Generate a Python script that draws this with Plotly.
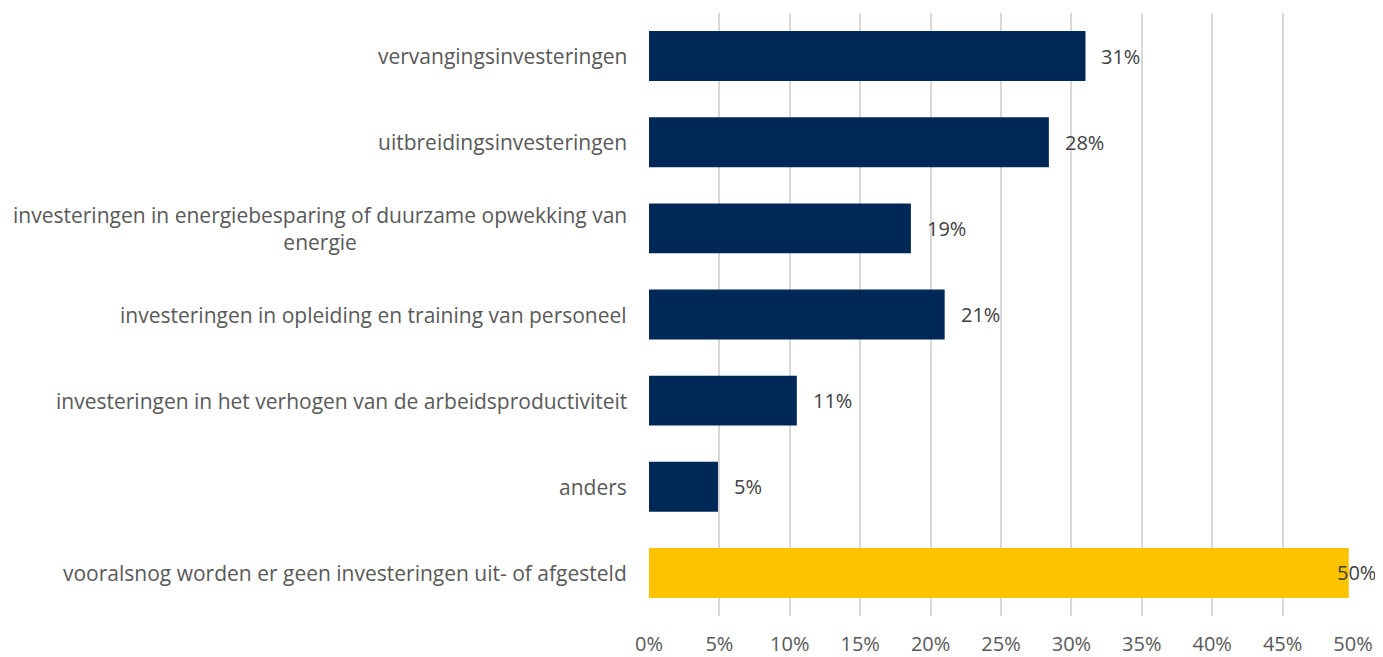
import plotly.graph_objects as go

# categories top to bottom, as in the chart
categories = [
    "vervangingsinvesteringen",
    "uitbreidingsinvesteringen",
    "investeringen in energiebesparing of duurzame opwekking van<br>energie",
    "investeringen in opleiding en training van personeel",
    "investeringen in het verhogen van de arbeidsproductiviteit",
    "anders",
    "vooralsnog worden er geen investeringen uit- of afgesteld",
]
values = [31.0, 28.4, 18.6, 21.0, 10.5, 4.9, 49.7]
value_labels = ["31%", "28%", "19%", "21%", "11%", "5%", "50%"]
bar_colors = ["#002856"] * 6 + ["#FCC400"]

tick_vals = list(range(0, 55, 5))
tick_text = [f"{v}%" for v in tick_vals]

FONT = "'Open Sans', sans-serif"

fig = go.Figure(go.Bar(
    x=values,
    y=categories,
    orientation="h",
    marker=dict(color=bar_colors, line=dict(width=0)),
    hoverinfo="skip",
))

# category labels (centred multi-line, right edge next to the axis)
for cat in categories:
    fig.add_annotation(
        x=0, xref="paper", y=cat, yref="y",
        text=cat, showarrow=False,
        xanchor="right", align="center", xshift=-20,
        font=dict(family=FONT, size=21, color="#595959"),
    )

# value labels
for cat, val, lab in zip(categories, values, value_labels):
    last = val > 45
    fig.add_annotation(
        x=val, y=cat, text=lab, showarrow=False,
        xanchor="left", xshift=-14 if last else 14,
        font=dict(family=FONT, size=20, color="#404040"),
    )

# page body has an 8px margin, so the figure is sized a little smaller
fig.update_layout(
    width=1375, height=649,
    margin=dict(l=641, r=30, t=5, b=41),
    paper_bgcolor="white", plot_bgcolor="white",
    bargap=0.42,
    showlegend=False,
    font=dict(family=FONT, size=21, color="#595959"),
)
fig.update_xaxes(
    range=[0, 50],
    tickvals=tick_vals, ticktext=tick_text,
    showgrid=True, gridcolor="#D9D9D9", gridwidth=2,
    zeroline=False, showline=False,
    ticks="", ticklabelstandoff=14,
    tickfont=dict(family=FONT, size=20, color="#595959"),
    automargin=False, fixedrange=True,
)
fig.update_yaxes(
    categoryorder="array", categoryarray=categories[::-1],
    showticklabels=False, showgrid=False, zeroline=False,
    showline=False, ticks="", automargin=False, fixedrange=True,
)

fig.write_html("out.html")
